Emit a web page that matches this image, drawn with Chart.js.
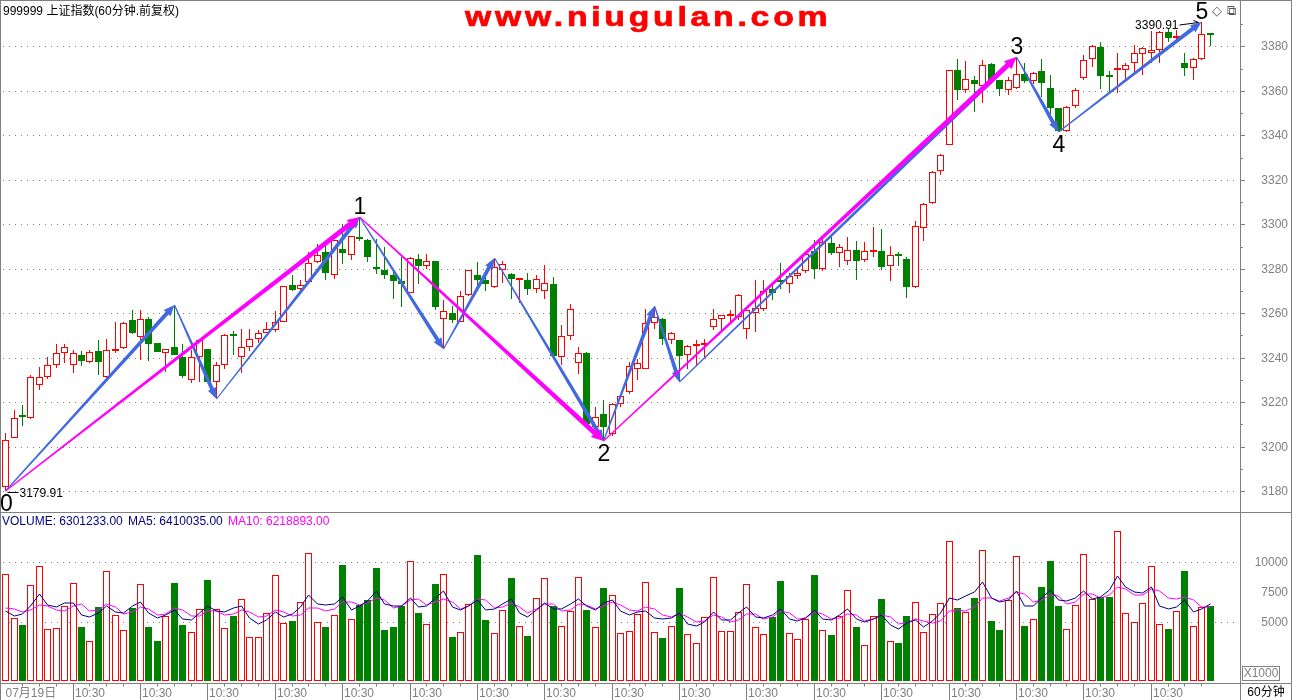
<!DOCTYPE html>
<html><head><meta charset="utf-8">
<script src="https://cdn.jsdelivr.net/npm/chart.js@4.4.1/dist/chart.umd.min.js"></script>
<style>
html,body{margin:0;padding:0;background:#fff;}
#wrap{position:relative;width:1292px;height:700px;overflow:hidden;background:#fff;font-family:"Liberation Sans","Noto Sans CJK SC",sans-serif;}
canvas{position:absolute;left:0;}
.t{position:absolute;white-space:nowrap;font-size:12px;line-height:14px;}
</style></head><body>
<div id="wrap">
<canvas id="pc" width="1292" height="512" style="top:0"></canvas>
<canvas id="vc" width="1292" height="188" style="top:512px"></canvas>
<div class="t" style="left:3px;top:4px;color:#000">999999 上证指数(60分钟.前复权)</div>
<div style="position:absolute;left:465px;top:4px;font:bold 27px/27px 'Liberation Sans',sans-serif;color:#f00;letter-spacing:3px;transform:scaleX(1.25);transform-origin:0 0;-webkit-text-stroke:0.7px #f00;white-space:nowrap">www.niugulan.com</div>
<div class="t" style="left:1212px;top:4px;font-size:13px;color:#555;font-family:'DejaVu Sans'">◇</div>
<div class="t" style="left:1227px;top:4px;font-size:13px;color:#555;font-family:'DejaVu Sans'">⧉</div>
<div class="t" style="left:2px;top:514px;color:#000080">VOLUME: 6301233.00</div>
<div class="t" style="left:128px;top:514px;color:#000080">MA5: 6410035.00</div>
<div class="t" style="left:228px;top:514px;color:#ff00ff">MA10: 6218893.00</div>
<div class="t" style="left:1242px;top:666px;width:36px;height:13px;border:1px solid #808080;color:#808080;line-height:13px;text-align:center">X1000</div>
<div class="t" style="left:1241px;top:684px;width:50px;height:16px;color:#000;line-height:16px;text-align:center">60分钟</div>
</div>
<script>
// ---------------- data ----------------
const opens = [3181.7,3204.1,3213.8,3212.7,3227.6,3231.4,3236.5,3242.3,3236.5,3241.4,
 3238.1,3242.9,3231.1,3242.9,3244.4,3256.9,3249.1,3257.2,3246.4,3241.9,
 3244.6,3240.4,3229.9,3240.1,3243.8,3229.1,3236.9,3250.1,3240.1,3244.9,
 3248.6,3251.1,3252.4,3256.1,3272.6,3270.7,3274.1,3283.1,3287.5,3277.4,
 3288.8,3286.4,3294.0,3293.1,3280.4,3279.3,3277.1,3274.5,3269.3,3284.6,
 3281.1,3283.4,3257.6,3260.3,3256.1,3268.1,3277.1,3274.8,3271.8,3279.3,
 3277.8,3274.8,3275.1,3270.7,3269.9,3273.3,3240.1,3249.8,3237.8,3242.3,
 3208.9,3214.6,3205.9,3219.1,3224.4,3235.1,3235.1,3255.4,3257.6,3247.9,
 3247.9,3241.4,3245.3,3245.6,3253.8,3257.2,3258.7,3258.1,3253.1,3260.1,
 3262.1,3271.1,3274.8,3273.3,3276.6,3279.0,3288.0,3279.8,3291.8,3287.3,
 3283.5,3288.3,3284.1,3287.4,3287.9,3281.1,3286.5,3284.6,3271.6,3298.5,
 3309.8,3324.0,3335.8,3369.5,3360.2,3365.1,3362.0,3371.9,3364.7,3360.2,
 3361.4,3367.4,3364.5,3368.8,3361.4,3352.4,3341.8,3353.0,3365.9,3374.5,
 3379.7,3366.7,3369.3,3369.5,3372.4,3376.7,3377.2,3378.5,3386.4,3383.7,
 3372.5,3370.5,3374.5,3385.5];
const highs = [3206.2,3216.4,3218.7,3232.4,3235.9,3240.1,3246.1,3246.1,3243.4,3243.1,
 3243.4,3247.9,3248.6,3256.1,3256.1,3261.3,3261.3,3258.3,3246.6,3243.9,
 3263.6,3246.1,3243.4,3248.0,3244.0,3238.1,3250.6,3251.9,3253.1,3253.1,
 3252.4,3256.1,3260.9,3272.3,3277.1,3275.0,3287.5,3291.3,3291.3,3293.0,
 3300.3,3294.8,3303.5,3293.5,3293.6,3289.8,3280.1,3285.3,3285.2,3286.5,
 3286.5,3283.6,3265.8,3263.1,3269.9,3279.5,3283.1,3277.5,3285.0,3283.3,
 3278.0,3275.5,3278.3,3277.0,3281.6,3276.3,3254.6,3264.0,3244.9,3242.5,
 3217.9,3220.9,3219.5,3223.0,3238.1,3239.6,3262.1,3263.1,3258.0,3251.5,
 3248.0,3245.5,3247.9,3248.2,3262.1,3259.3,3261.3,3268.6,3261.5,3274.8,
 3274.8,3272.5,3282.6,3278.0,3280.0,3287.5,3292.8,3293.6,3294.5,3291.3,
 3294.3,3292.4,3292.0,3298.8,3297.8,3290.1,3287.5,3285.3,3301.5,3309.5,
 3324.0,3331.5,3369.5,3374.5,3373.3,3366.5,3374.0,3372.5,3365.0,3366.2,
 3375.2,3372.4,3368.5,3374.5,3367.3,3352.5,3353.0,3361.3,3376.0,3380.5,
 3382.0,3369.0,3377.2,3372.4,3380.5,3379.6,3386.9,3386.9,3388.5,3387.5,
 3377.2,3374.8,3390.91,3385.8];
const lows = [3179.91,3203.8,3209.2,3212.4,3225.7,3230.5,3235.3,3237.7,3232.9,3236.3,
 3237.7,3232.1,3231.0,3242.2,3243.8,3250.7,3238.9,3238.6,3242.4,3233.6,
 3241.0,3230.7,3228.7,3229.1,3229.0,3221.3,3235.0,3241.1,3233.2,3243.1,
 3246.4,3250.9,3251.6,3255.9,3270.1,3270.3,3273.5,3282.5,3274.8,3275.3,
 3282.3,3283.8,3292.5,3283.1,3277.8,3275.6,3266.6,3262.8,3269.0,3273.3,
 3280.0,3261.3,3244.1,3255.6,3255.9,3267.9,3271.1,3270.0,3271.5,3273.5,
 3266.6,3264.4,3268.0,3269.0,3266.3,3240.5,3236.6,3247.9,3232.6,3209.5,
 3207.0,3202.6,3205.0,3218.0,3223.6,3230.0,3235.0,3253.1,3245.6,3246.0,
 3229.1,3234.7,3236.6,3240.4,3252.4,3252.4,3256.1,3257.0,3248.6,3251.6,
 3261.0,3266.0,3271.0,3269.0,3275.5,3278.0,3275.3,3279.0,3286.0,3280.8,
 3281.6,3274.8,3283.1,3285.3,3279.3,3274.5,3281.1,3267.0,3271.5,3292.5,
 3309.0,3322.0,3335.5,3356.0,3359.0,3350.5,3354.5,3363.0,3357.7,3358.0,
 3361.0,3363.7,3363.0,3357.2,3349.8,3341.5,3341.5,3352.5,3365.0,3370.7,
 3361.0,3359.5,3359.0,3364.7,3367.0,3367.0,3372.4,3372.5,3381.8,3382.0,
 3366.5,3364.7,3374.0,3380.0];
const closes = [3203.2,3213.1,3213.2,3231.1,3231.4,3236.5,3241.9,3244.9,3241.9,3238.6,
 3242.6,3238.1,3243.4,3243.8,3255.4,3250.9,3257.2,3246.1,3242.6,3243.7,
 3241.1,3231.7,3240.4,3247.9,3229.1,3236.9,3250.4,3249.6,3244.9,3248.2,
 3250.9,3253.1,3256.1,3272.1,3270.3,3272.9,3282.8,3286.4,3278.1,3292.8,
 3287.1,3294.6,3293.3,3285.3,3279.8,3277.1,3274.5,3273.3,3285.0,3281.1,
 3283.4,3262.6,3261.0,3256.9,3267.8,3279.3,3274.8,3273.0,3280.8,3282.0,
 3275.3,3275.3,3270.8,3275.6,3273.8,3240.8,3249.7,3261.7,3241.9,3210.1,
 3213.4,3208.9,3219.1,3222.7,3236.2,3237.4,3255.8,3258.1,3248.2,3251.1,
 3240.8,3245.3,3246.1,3246.4,3257.3,3259.1,3259.1,3268.4,3261.3,3262.4,
 3270.0,3269.1,3274.1,3276.6,3278.3,3286.8,3280.1,3292.0,3287.1,3289.8,
 3288.3,3283.5,3287.9,3287.9,3280.8,3286.4,3285.8,3271.8,3299.2,3309.3,
 3323.5,3331.3,3369.2,3360.5,3365.5,3362.9,3371.8,3364.7,3360.7,3365.1,
 3367.8,3364.5,3368.2,3363.7,3352.4,3341.9,3352.7,3360.5,3374.0,3380.0,
 3366.5,3366.3,3370.0,3371.5,3377.2,3379.4,3378.2,3386.4,3383.9,3384.1,
 3370.5,3374.5,3385.4,3385.3];
// volume in thousands
const volumes = [9047,5296,4728,8078,9644,4359,4444,6290,8278,4529,
 3388,6234,9272,5552,4274,6149,8193,4529,3360,5467,
 8222,4728,4104,6064,8477,6064,4444,5495,6916,3678,
 3678,5723,8930,4870,5070,6660,10778,4955,4529,5552,
 9754,5211,6376,6831,9556,4302,4529,6347,10125,5723,
 4785,8137,9047,3678,4160,6490,10607,5155,4018,6007,
 8648,4643,3791,7000,8705,6290,4643,5921,8790,5950,
 4529,7796,7256,4018,4217,5637,8363,4104,3650,4643,
 7796,3934,3166,5382,8790,4217,4217,5836,8193,4529,
 3934,5382,8420,4018,3536,5211,8903,4274,3877,5495,
 7682,4586,3025,5495,6944,3365,3224,5495,6688,4104,
 5637,6575,11772,6177,5836,7029,11005,5070,4303,6859,
 10500,4643,5211,7881,10067,6347,4359,6404,10665,6916,
 7086,7086,12627,5723,4955,6575,9644,4785,4388,5921,
 9244,4614,6234,6301];
// moving-average values at the start of the window (before a full window exists)
const ma5Lead = [5862,5436,5666,6288];
const ma10Lead = [6151,6092,5777,6007,6373,6288,6007,5862,6331];

const priceTicks = [3180,3200,3220,3240,3260,3280,3300,3320,3340,3360,3380];
const volLabelTicks = [10000,7500,5000];
const volGridTicks = [10000,5000];
const xTickBars = [0,8,16,24,32,40,48,56,64,72,80,88,96,104,112,120,128,136];
const xTickLabels = ['07月19日','10:30','10:30','10:30','10:30','10:30','10:30','10:30','10:30',
 '10:30','10:30','10:30','10:30','10:30','10:30','10:30','10:30','10:30'];

// Elliott-wave pivot points (bar index, price)
const waveBars   = [0, 20, 25, 42, 52, 58, 71, 77, 80, 120, 125, 142];
const wavePrices = [3179.91, 3263.6, 3221.3, 3303.5, 3244.1, 3285.0, 3202.6, 3263.1, 3229.1, 3375.2, 3341.5, 3390.91];
const mainWaveIdx = [0, 3, 6, 9];
const waveLabels = ['0','1','2','3','4','5'];
const waveLabelIdx = [0, 3, 6, 9, 10, 11];
const waveLabelSide = ['below','above','below','above','below','above'];

// ---------------- rendering ----------------
const GRAY='#808080', RED='#ff0000', GREEN='#008000', BLUE='#4169e1', MAG='#ff00ff', NAVY='#000080';
const FONT='"Liberation Sans","Noto Sans CJK SC",sans-serif';
Chart.defaults.font.family = FONT;
const N = opens.length;
const isUp = opens.map((o,i)=>closes[i] >= o);
const XMIN = -0.5, XMAX = 146.6;

function line(ctx,x0,y0,x1,y1){ctx.beginPath();ctx.moveTo(x0,y0);ctx.lineTo(x1,y1);ctx.stroke();}
function taper(ctx,p0,p1,color,w0,w1,hl,hw){
  const [x0,y0]=p0,[x1,y1]=p1;
  const dx=x1-x0, dy=y1-y0, L=Math.hypot(dx,dy); const ux=dx/L, uy=dy/L, nx=-uy, ny=ux;
  const bx=x1-ux*hl, by=y1-uy*hl;
  ctx.fillStyle=color; ctx.beginPath();
  ctx.moveTo(x0+nx*w0/2,y0+ny*w0/2);
  ctx.lineTo(bx+nx*w1/2,by+ny*w1/2);
  ctx.lineTo(bx+nx*hw,by+ny*hw);
  ctx.lineTo(x1,y1);
  ctx.lineTo(bx-nx*hw,by-ny*hw);
  ctx.lineTo(bx-nx*w1/2,by-ny*w1/2);
  ctx.lineTo(x0-nx*w0/2,y0-ny*w0/2);
  ctx.closePath(); ctx.fill();
}

const pricePlugin = {
  id:'pricePlugin',
  beforeDatasetsDraw(chart){
    const {ctx,scales:{y}}=chart;
    ctx.save(); ctx.strokeStyle=GRAY; ctx.lineWidth=1; ctx.setLineDash([1,5]);
    for(const v of priceTicks){const py=Math.round(y.getPixelForValue(v))+0.5; line(ctx,3,py,1238,py);}
    ctx.restore();
    ctx.save(); ctx.translate(0.5,0);
  },
  afterDatasetsDraw(chart){
    const {ctx,scales:{x,y}}=chart;
    ctx.restore();
    const pts = waveBars.map((b,i)=>[x.getPixelForValue(b)+0.5, y.getPixelForValue(wavePrices[i])]);
    ctx.save();
    for(let i=0;i<pts.length-1;i++) taper(ctx,pts[i],pts[i+1],BLUE,1.2,4,11,4.5);
    for(let k=0;k<mainWaveIdx.length-1;k++) taper(ctx,pts[mainWaveIdx[k]],pts[mainWaveIdx[k+1]],MAG,1.2,5,12,5.5);
    ctx.fillStyle='#000'; ctx.font='23px '+FONT; ctx.textAlign='center'; ctx.textBaseline='alphabetic';
    waveLabelIdx.forEach((wi,k)=>{const [px,py]=pts[wi]; const below=waveLabelSide[k]==='below';
      ctx.fillText(waveLabels[k], px+(k===0?1:0.5), below? py+20 : py-3);});
    // price notes
    ctx.font='12px '+FONT; ctx.textBaseline='middle'; ctx.strokeStyle='#000'; ctx.lineWidth=1;
    const [ax,ay]=pts[0];
    line(ctx,ax+2,Math.round(ay)+1.5,ax+13,Math.round(ay)+1.5);
    ctx.textAlign='left'; ctx.fillText(wavePrices[0].toFixed(2), ax+14, ay+3);
    const [bx,by]=pts[pts.length-1];
    ctx.textAlign='right'; ctx.fillText(wavePrices[wavePrices.length-1].toFixed(2), bx-23, by+4);
    line(ctx,bx-22,by+3,bx-3,by+0.5);
    line(ctx,bx-3,by+0.5,bx-8,by-1.5);
    ctx.restore();
  },
  afterDraw(chart){
    const {ctx,scales:{y}}=chart;
    ctx.save(); ctx.strokeStyle=GRAY; ctx.lineWidth=1;
    line(ctx,0,0.5,1292,0.5); line(ctx,0.5,0,0.5,512); line(ctx,1240.5,0,1240.5,512); line(ctx,1291.5,0,1291.5,512);
    ctx.fillStyle=GRAY; ctx.font='12px '+FONT; ctx.textAlign='right'; ctx.textBaseline='middle';
    for(const v of priceTicks){
      const py=Math.round(y.getPixelForValue(v))+0.5; line(ctx,1241,py,1245,py);
      const pm=Math.round(y.getPixelForValue(v+10))+0.5; line(ctx,1241,pm,1243,pm);
      ctx.fillText(String(v),1288,py);
    }
    ctx.restore();
  }
};

new Chart(document.getElementById('pc'), {
  type:'bar',
  data:{datasets:[
    {label:'body', data:opens.map((o,i)=>({x:i,y:[o,closes[i]]})),
     backgroundColor:isUp.map(u=>u?'#ffffff':GREEN), borderColor:isUp.map(u=>u?RED:GREEN),
     borderWidth:1, borderSkipped:false, barThickness:7, grouped:false, minBarLength:2, inflateAmount:0, order:0},
    {label:'wick', data:lows.map((l,i)=>({x:i,y:[l,highs[i]]})),
     backgroundColor:isUp.map(u=>u?RED:GREEN), borderWidth:0, barThickness:1, grouped:false, inflateAmount:0, order:1}
  ]},
  options:{
    responsive:false, animation:false, devicePixelRatio:1, events:[],
    layout:{padding:{left:1,right:52,top:2,bottom:2}},
    plugins:{legend:{display:false},tooltip:{enabled:false}},
    scales:{
      x:{type:'linear',min:XMIN,max:XMAX,display:false,offset:false,alignToPixels:true},
      y:{min:3171.5,max:3400,display:false,alignToPixels:true}
    }
  },
  plugins:[pricePlugin]
});

// volume moving averages
function movAvg(arr,n,lead){return arr.map((v,i)=> i<n-1 ? lead[i] : arr.slice(i-n+1,i+1).reduce((a,b)=>a+b,0)/n);}
const ma5 = movAvg(volumes,5,ma5Lead), ma10 = movAvg(volumes,10,ma10Lead);

const volPlugin = {
  id:'volPlugin',
  beforeDatasetsDraw(chart){
    const {ctx,scales:{y}}=chart;
    ctx.save(); ctx.strokeStyle=GRAY; ctx.lineWidth=1; ctx.setLineDash([1,5]);
    for(const v of volGridTicks){const py=Math.round(y.getPixelForValue(v))+0.5; line(ctx,3,py,1238,py);}
    ctx.restore();
    ctx.save(); ctx.translate(0.5,0);
  },
  afterDatasetsDraw(chart){ chart.ctx.restore(); },
  afterDraw(chart){
    const {ctx,scales:{x,y}}=chart;
    ctx.save(); ctx.strokeStyle=GRAY; ctx.lineWidth=1;
    line(ctx,0,0.5,1292,0.5); line(ctx,0.5,0,0.5,188); line(ctx,1240.5,0,1240.5,188); line(ctx,1291.5,0,1291.5,188);
    line(ctx,0,171.5,1292,171.5);
    for(let b=2;b<N;b+=2){ if(b%8===0) continue; const px=Math.round(x.getPixelForValue(b))+0.5; line(ctx,px,171.5,px,174.5);}
    ctx.fillStyle=GRAY; ctx.font='12px '+FONT; ctx.textBaseline='alphabetic'; ctx.textAlign='left';
    xTickBars.forEach((b,k)=>{
      const px=Math.round(x.getPixelForValue(b))+0.5;
      if(k>0){ line(ctx,px,171.5,px,188); ctx.fillText(xTickLabels[k],px+1.5,184.5); }
      else ctx.fillText(xTickLabels[k],px,184.5);
    });
    ctx.textAlign='right'; ctx.textBaseline='middle';
    for(const v of volLabelTicks){ ctx.fillText(String(v),1288,Math.round(y.getPixelForValue(v))+0.5); }
    ctx.restore();
  }
};

new Chart(document.getElementById('vc'), {
  type:'bar',
  data:{datasets:[
    {type:'line', label:'MA5', data:ma5.map((v,i)=>({x:i,y:v})), borderColor:NAVY, borderWidth:1, pointRadius:0, tension:0, order:0},
    {type:'line', label:'MA10', data:ma10.map((v,i)=>({x:i,y:v})), borderColor:MAG, borderWidth:1, pointRadius:0, tension:0, order:1},
    {label:'VOLUME', data:volumes.map((v,i)=>({x:i,y:v})),
     backgroundColor:isUp.map(u=>u?'#ffffff':GREEN), borderColor:isUp.map(u=>u?RED:GREEN),
     borderWidth:1, borderSkipped:false, barThickness:7, grouped:false, inflateAmount:0, order:2}
  ]},
  options:{
    responsive:false, animation:false, devicePixelRatio:1, events:[],
    layout:{padding:{left:1,right:52,top:1,bottom:19}},
    plugins:{legend:{display:false},tooltip:{enabled:false}},
    scales:{
      x:{type:'linear',min:XMIN,max:XMAX,display:false,offset:false,alignToPixels:true},
      y:{min:0,max:14150,display:false,alignToPixels:true}
    }
  },
  plugins:[volPlugin]
});
</script>
</body></html>
